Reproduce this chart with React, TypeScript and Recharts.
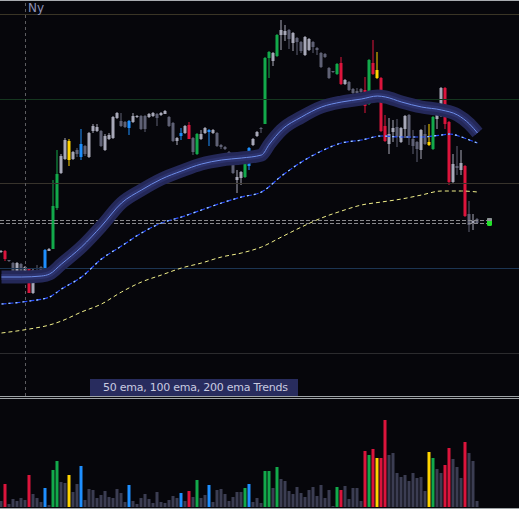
import React from 'react';
import { ComposedChart, BarChart, Bar, Line, Scatter, XAxis, YAxis, ReferenceLine, Cell } from 'recharts';

const BG = '#06060b';
const UP_GRAY = '#a7a8b8';
const DOWN_GRAY = '#5f6175';
const VOL_GRAY = '#3b3d52';
const SIGNAL_COLORS: Record<string, string> = { g: '#12a94b', r: '#dc143c', b: '#1e8fff', y: '#ffd400' };

// price bars, oldest first
const opens = [
  148, 149, 140, 137, 126, 136, 127, 131, 107, 130, 133, 126, 149, 151, 192, 227, 241, 240, 241, 250,
  243, 254, 243, 269, 269, 269, 250, 261, 262, 282, 279, 278, 272, 278, 283, 284, 284, 283, 284, 286,
  285, 286, 283, 277, 259, 264, 267, 275, 262, 246, 261, 267, 268, 267, 267, 255, 253, 248, 242, 220,
  222, 223, 234, 255, 264, 272, 276, 342, 339, 344, 365, 365, 370, 357, 362, 358, 345, 350, 358, 352,
  347, 346, 332, 329, 326, 337, 316, 318, 311, 309, 311, 310, 296, 337, 322, 322, 274, 256, 268, 273,
  258, 271, 285, 261, 258, 250, 266, 255, 251, 281, 284, 312, 278, 218, 234, 230, 234, 186, 177, 181,
];
const highs = [
  150, 150, 140, 138, 138, 137, 134, 132, 131, 135, 134, 151, 152, 220, 250, 246, 262, 261, 249, 252,
  271, 255, 268, 276, 276, 270, 266, 267, 284, 288, 287, 279, 280, 287, 285, 285, 285, 287, 288, 287,
  288, 290, 284, 278, 263, 272, 275, 278, 263, 267, 270, 273, 271, 271, 268, 256, 254, 249, 243, 230,
  229, 240, 253, 262, 269, 273, 343, 349, 348, 366, 380, 375, 371, 368, 363, 359, 364, 362, 359, 353,
  348, 347, 333, 329, 337, 343, 321, 319, 312, 312, 312, 323, 341, 360, 348, 323, 285, 282, 280, 281,
  273, 285, 286, 270, 259, 271, 275, 276, 284, 292, 313, 313, 279, 246, 254, 250, 235, 199, 186, 182,
];
const lows = [
  147, 139, 138, 123, 125, 128, 126, 107, 106, 125, 125, 126, 149, 151, 190, 226, 240, 234, 240, 243,
  240, 244, 242, 267, 268, 253, 249, 260, 261, 281, 273, 272, 265, 277, 282, 270, 268, 282, 283, 274,
  284, 286, 273, 258, 255, 260, 266, 261, 245, 245, 260, 266, 254, 266, 253, 251, 250, 243, 226, 207,
  215, 222, 230, 254, 263, 267, 276, 322, 334, 343, 350, 359, 351, 349, 345, 347, 344, 349, 347, 345,
  332, 342, 321, 327, 325, 315, 315, 309, 303, 303, 301, 287, 295, 325, 321, 268, 258, 246, 258, 253,
  257, 262, 255, 246, 238, 241, 255, 254, 250, 271, 283, 271, 215, 217, 225, 225, 183, 168, 170, 176,
];
const closes = [
  149, 141, 139, 125, 137, 129, 133, 107, 130, 128, 126, 150, 151, 194, 226, 244, 260, 259, 248, 246,
  256, 246, 267, 274, 273, 254, 264, 265, 283, 287, 274, 273, 279, 284, 284, 271, 271, 286, 287, 282,
  287, 289, 274, 259, 262, 267, 274, 261, 248, 266, 266, 272, 270, 270, 254, 253, 251, 244, 227, 223,
  228, 239, 252, 261, 268, 271, 342, 348, 347, 365, 370, 369, 361, 367, 358, 349, 363, 361, 353, 350,
  333, 343, 322, 328, 336, 316, 320, 310, 307, 307, 308, 294, 340, 326, 330, 269, 259, 266, 272, 263,
  272, 284, 262, 254, 251, 270, 256, 258, 283, 289, 312, 276, 218, 236, 232, 237, 184, 175, 179, 177,
];
const volumes = [
  6, 23, 3, 8, 6, 9, 7, 32, 13, 9,
  5, 19, 2, 37, 46, 25, 24, 32, 15, 23,
  41, 7, 18, 17, 9, 12, 16, 10, 9, 18,
  14, 5, 22, 6, 3, 9, 13, 8, 4, 15,
  5, 4, 7, 11, 9, 14, 6, 16, 10, 27,
  9, 12, 22, 5, 17, 18, 13, 6, 10, 15,
  15, 19, 23, 5, 9, 4, 36, 36, 19, 40,
  28, 26, 16, 13, 20, 14, 10, 17, 20, 11,
  22, 9, 17, 1, 20, 17, 21, 8, 19, 19,
  6, 56, 52, 58, 49, 49, 87, 52, 54, 34,
  30, 32, 26, 34, 29, 30, 16, 55, 49, 38,
  34, 42, 59, 48, 40, 29, 65, 54, 46, 6,
];
// trend signal bars (index -> colour code)
const signalAt: Record<number, string> = {
  1: 'r', 7: 'r', 11: 'b', 13: 'g', 14: 'g', 17: 'y', 20: 'b', 32: 'b', 45: 'b', 47: 'r',
  49: 'g', 52: 'b', 61: 'g', 62: 'b', 66: 'g', 67: 'g', 69: 'g', 84: 'g', 85: 'r', 91: 'r',
  92: 'g', 93: 'r', 94: 'y', 95: 'r', 96: 'r', 107: 'y', 108: 'g', 111: 'r', 112: 'r', 116: 'r',
};

// moving averages read at selected bars
const ema50Idx = [0, 5, 10, 12, 15, 20, 25, 30, 35, 40, 45, 50, 55, 60, 65, 67, 70, 75, 80, 85, 90, 94, 96, 100, 105, 110, 114, 117, 119];
const ema50Val = [123, 123, 124, 126, 136, 153, 174, 197, 210, 221, 229, 236, 240, 242, 245, 256, 270, 283, 293, 298, 301, 304, 303, 298, 293, 290, 285, 276, 267];
const ema100Idx = [0, 7, 12, 15, 20, 25, 30, 35, 40, 45, 50, 55, 60, 65, 70, 75, 80, 85, 90, 95, 100, 105, 110, 112, 115, 117, 119];
const ema100Val = [96, 99, 103, 111, 123, 141, 154, 167, 177, 183, 190, 197, 203, 208, 224, 238, 249, 257, 260, 264, 263, 263, 265, 266, 263, 260, 257];
const ema200Idx = [0, 7, 12, 15, 20, 25, 30, 35, 40, 45, 50, 55, 60, 65, 70, 75, 80, 85, 90, 95, 100, 105, 110, 115, 119];
const ema200Val = [67, 71, 75, 79, 88, 96, 108, 118, 125, 132, 137, 143, 147, 153, 163, 173, 182, 189, 195, 198, 201, 205, 209, 209, 208];

const gridLevels = [
  { v: 385.5, color: '#3a3526' },
  { v: 300.5, color: '#15361f' },
  { v: 216.5, color: '#37332c' },
  { v: 131.5, color: '#1c3553' },
  { v: 46.5, color: '#2b2b2e' },
];
const askPrice = 179.5;
const bidPrice = 176.5;
const sessionBar = 6;
const liveBar = 122;
const livePrice = 178;

const candles = opens.map((o, i) => ({
  i, o, h: highs[i], l: lows[i], c: closes[i], vol: volumes[i], s: signalAt[i],
}));
const toLine = (idx: number[], val: number[]) => idx.map((i, k) => ({ i, v: val[k] }));
const ema50 = toLine(ema50Idx, ema50Val);
const ema100 = toLine(ema100Idx, ema100Val);
const ema200 = toLine(ema200Idx, ema200Val);

const X_DOMAIN: [number, number] = [-0.375, 129.375];

function barColor(d: { o: number; c: number; s?: string }) {
  if (d.s) return SIGNAL_COLORS[d.s];
  return d.c >= d.o ? UP_GRAY : DOWN_GRAY;
}

function Candle(props: any) {
  const { x, y, width, height, payload } = props;
  const { o, h, l, c } = payload;
  const toY = (v: number) => y + ((h - v) / (h - l)) * height;
  const cx = x + width / 2;
  const color = barColor(payload);
  const top = toY(Math.max(o, c));
  const bot = toY(Math.min(o, c));
  return (
    <g>
      <rect x={cx - 0.5} y={y} width={1} height={height} fill={color} />
      <rect x={cx - 1.5} y={top} width={3} height={Math.max(bot - top, 1)} fill={color} />
    </g>
  );
}

function LiveMarker(props: any) {
  const { cx, cy } = props;
  return (
    <g>
      <rect x={cx - 2.5} y={cy - 4} width={5} height={8} rx={1.5} fill="#22e02a" />
      <rect x={cx - 2.5} y={cy - 4} width={5} height={3} rx={1} fill="#8d8f96" />
    </g>
  );
}

export default function App() {
  const hline = (top: number) => (
    <div style={{ position: 'absolute', left: 0, top, width: 519, height: 1, background: '#9ea3a6' }} />
  );
  return (
    <div style={{ position: 'fixed', left: 0, top: 0, width: 519, height: 509, background: BG, overflow: 'hidden', fontFamily: '"DejaVu Sans", sans-serif' }}>
      <div style={{ position: 'absolute', left: 0, top: 0 }}>
        <ComposedChart width={519} height={396} data={candles} margin={{ top: 0, right: 0, bottom: 0, left: 0 }}>
          <XAxis dataKey="i" type="number" domain={X_DOMAIN} hide />
          <YAxis type="number" domain={[4, 400]} hide />
          {gridLevels.map(g => (
            <ReferenceLine key={g.v} y={g.v} stroke={g.color} strokeWidth={1} />
          ))}
          <ReferenceLine x={sessionBar} stroke="#5c5c60" strokeDasharray="3 3" />
          <ReferenceLine segment={[{ x: X_DOMAIN[0], y: askPrice }, { x: liveBar - 0.5, y: askPrice }]} stroke="#8a8a8e" strokeDasharray="4 2" />
          <ReferenceLine segment={[{ x: X_DOMAIN[0], y: bidPrice }, { x: liveBar - 0.5, y: bidPrice }]} stroke="#8a8a8e" strokeDasharray="4 2" />
          <Line data={ema200} dataKey="v" type="monotone" stroke="#f2f08a" strokeWidth={1} strokeDasharray="4 3" dot={false} isAnimationActive={false} />
          <Line data={ema100} dataKey="v" type="monotone" stroke="#2448ff" strokeWidth={1.2} strokeDasharray="5 2" dot={false} isAnimationActive={false} />
          <Line data={ema100} dataKey="v" type="monotone" stroke="#a6d4ff" strokeWidth={1.2} strokeDasharray="2 5" dot={false} isAnimationActive={false} />
          <Line data={ema50} dataKey="v" type="monotone" stroke="#242858" strokeWidth={13} dot={false} isAnimationActive={false} />
          <Line data={ema50} dataKey="v" type="monotone" stroke="#2c326c" strokeWidth={6} dot={false} isAnimationActive={false} />
          <Line data={ema50} dataKey="v" type="monotone" stroke="#6d8de8" strokeWidth={1} dot={false} isAnimationActive={false} />
          <Bar dataKey={(d: any) => [d.l, d.h]} barSize={3} shape={Candle} isAnimationActive={false} />
          <Scatter data={[{ i: liveBar, v: livePrice }]} dataKey="v" shape={LiveMarker} isAnimationActive={false} />
        </ComposedChart>
      </div>
      <div style={{ position: 'absolute', left: 28, top: 1, fontSize: 12, color: '#8c91b8' }}>Ny</div>
      <div style={{ position: 'absolute', left: 90, top: 379, width: 208, height: 17, background: '#282c5e', color: '#c9cbe0', fontSize: 11, letterSpacing: -0.25, lineHeight: '17px', paddingLeft: 13, boxSizing: 'border-box', whiteSpace: 'nowrap' }}>
        50 ema, 100 ema, 200 ema Trends
      </div>
      <div style={{ position: 'absolute', left: 0, top: 0, width: 519, height: 1, background: '#a8acb0' }} />
      {hline(396)}
      {hline(398)}
      <div style={{ position: 'absolute', left: 0, top: 400 }}>
        <BarChart width={519} height={107} data={candles} margin={{ top: 0, right: 0, bottom: 0, left: 0 }}>
          <XAxis dataKey="i" type="number" domain={X_DOMAIN} hide />
          <YAxis type="number" domain={[0, 107]} hide />
          <Bar dataKey="vol" barSize={3} isAnimationActive={false}>
            {candles.map(d => (
              <Cell key={d.i} fill={d.s ? SIGNAL_COLORS[d.s] : VOL_GRAY} />
            ))}
          </Bar>
        </BarChart>
      </div>
      {hline(508)}
    </div>
  );
}
